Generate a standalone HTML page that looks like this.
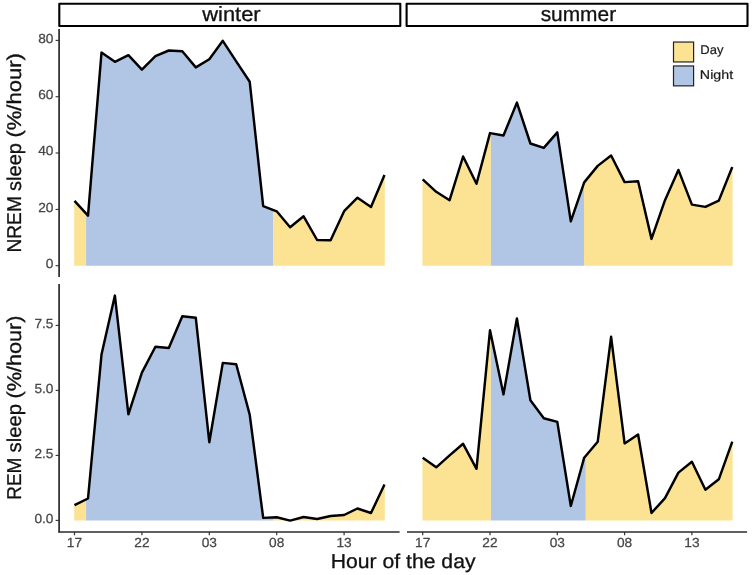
<!DOCTYPE html>
<html lang="en">
<head>
<meta charset="utf-8">
<title>Sleep by hour of the day</title>
<style>
html,body{margin:0;padding:0;background:#fff;}
body{width:752px;height:575px;overflow:hidden;}
svg{display:block;}
svg text{font-family:"Liberation Sans",sans-serif;text-rendering:geometricPrecision;}
</style>
</head>
<body>
<svg width="752" height="575" viewBox="0 0 752 575">
<rect x="0" y="0" width="752" height="575" fill="#ffffff"/>
<!-- winter / NREM -->
<path d="M74.2,265.7 L74.2,200.9 L74.5,200.9 L86.1,213.6 L86.1,265.7 Z" fill="#FCE393"/>
<path d="M86.1,265.7 L86.1,213.6 L88.0,215.7 L101.5,52.6 L114.9,61.8 L128.4,55.2 L141.9,69.7 L155.4,56.1 L168.8,50.5 L182.3,51.2 L195.8,67.4 L209.3,59.2 L222.8,40.8 L236.2,61.3 L249.7,81.7 L263.2,206.1 L273.1,209.9 L273.1,265.7 Z" fill="#B1C5E5"/>
<path d="M273.1,265.7 L273.1,209.9 L276.7,211.3 L290.1,227.2 L303.6,216.3 L317.1,240.0 L330.6,240.3 L344.1,211.2 L357.5,197.7 L371.0,207.0 L384.5,175.0 L384.8,175.0 L384.8,265.7 Z" fill="#FCE393"/>
<path d="M74.5,200.9 L88.0,215.7 L101.5,52.6 L114.9,61.8 L128.4,55.2 L141.9,69.7 L155.4,56.1 L168.8,50.5 L182.3,51.2 L195.8,67.4 L209.3,59.2 L222.8,40.8 L236.2,61.3 L249.7,81.7 L263.2,206.1 L276.7,211.3 L290.1,227.2 L303.6,216.3 L317.1,240.0 L330.6,240.3 L344.1,211.2 L357.5,197.7 L371.0,207.0 L384.5,175.0" fill="none" stroke="#000" stroke-width="2.45" stroke-linejoin="round" stroke-linecap="butt"/>
<!-- summer / NREM -->
<path d="M422.4,265.7 L422.4,179.4 L422.7,179.4 L436.2,191.8 L449.6,200.2 L463.1,156.5 L476.5,183.8 L490.0,133.1 L490.9,133.3 L490.9,265.7 Z" fill="#FCE393"/>
<path d="M490.9,265.7 L490.9,133.3 L503.5,135.5 L516.9,102.6 L530.4,143.5 L543.8,147.9 L557.3,132.4 L570.8,221.4 L584.0,183.0 L584.0,265.7 Z" fill="#B1C5E5"/>
<path d="M584.0,265.7 L584.0,183.0 L584.2,182.4 L597.7,165.9 L611.1,155.5 L624.6,182.1 L638.1,181.2 L651.5,238.9 L665.0,200.2 L678.4,169.9 L691.9,204.6 L705.4,206.9 L718.8,200.6 L732.3,167.0 L732.6,167.0 L732.6,265.7 Z" fill="#FCE393"/>
<path d="M422.7,179.4 L436.2,191.8 L449.6,200.2 L463.1,156.5 L476.5,183.8 L490.0,133.1 L503.5,135.5 L516.9,102.6 L530.4,143.5 L543.8,147.9 L557.3,132.4 L570.8,221.4 L584.2,182.4 L597.7,165.9 L611.1,155.5 L624.6,182.1 L638.1,181.2 L651.5,238.9 L665.0,200.2 L678.4,169.9 L691.9,204.6 L705.4,206.9 L718.8,200.6 L732.3,167.0" fill="none" stroke="#000" stroke-width="2.45" stroke-linejoin="round" stroke-linecap="butt"/>
<!-- winter / REM -->
<path d="M74.2,520.4 L74.2,505.2 L74.5,505.2 L86.1,499.4 L86.1,520.4 Z" fill="#FCE393"/>
<path d="M86.1,520.4 L86.1,499.4 L88.0,498.5 L101.5,354.6 L114.9,295.6 L128.4,414.3 L141.9,372.6 L155.4,346.8 L168.8,348.0 L182.3,316.2 L195.8,317.8 L209.3,442.2 L222.8,362.9 L236.2,364.3 L249.7,414.6 L263.2,517.9 L273.0,517.5 L273.0,520.4 Z" fill="#B1C5E5"/>
<path d="M273.0,520.4 L273.0,517.5 L276.7,517.3 L290.1,520.6 L303.6,517.0 L317.1,519.0 L330.6,516.0 L344.1,515.0 L357.5,508.5 L371.0,513.0 L384.5,484.5 L384.8,484.5 L384.8,520.4 Z" fill="#FCE393"/>
<path d="M74.5,505.2 L88.0,498.5 L101.5,354.6 L114.9,295.6 L128.4,414.3 L141.9,372.6 L155.4,346.8 L168.8,348.0 L182.3,316.2 L195.8,317.8 L209.3,442.2 L222.8,362.9 L236.2,364.3 L249.7,414.6 L263.2,517.9 L276.7,517.3 L290.1,520.6 L303.6,517.0 L317.1,519.0 L330.6,516.0 L344.1,515.0 L357.5,508.5 L371.0,513.0 L384.5,484.5" fill="none" stroke="#000" stroke-width="2.45" stroke-linejoin="round" stroke-linecap="butt"/>
<!-- summer / REM -->
<path d="M422.4,520.4 L422.4,457.8 L422.7,457.8 L436.2,467.3 L449.6,455.4 L463.1,443.8 L476.5,468.8 L490.0,330.3 L490.9,334.6 L490.9,520.4 Z" fill="#FCE393"/>
<path d="M490.9,520.4 L490.9,334.6 L503.5,394.4 L516.9,318.4 L530.4,400.2 L543.8,418.3 L557.3,421.9 L570.8,506.0 L584.2,457.7 L585.8,455.8 L585.8,520.4 Z" fill="#B1C5E5"/>
<path d="M585.8,520.4 L585.8,455.8 L597.7,441.8 L611.1,336.8 L624.6,443.4 L638.1,434.5 L651.5,513.0 L665.0,498.1 L678.4,472.6 L691.9,461.7 L705.4,489.7 L718.8,479.3 L732.3,441.7 L732.6,441.7 L732.6,520.4 Z" fill="#FCE393"/>
<path d="M422.7,457.8 L436.2,467.3 L449.6,455.4 L463.1,443.8 L476.5,468.8 L490.0,330.3 L503.5,394.4 L516.9,318.4 L530.4,400.2 L543.8,418.3 L557.3,421.9 L570.8,506.0 L584.2,457.7 L597.7,441.8 L611.1,336.8 L624.6,443.4 L638.1,434.5 L651.5,513.0 L665.0,498.1 L678.4,472.6 L691.9,461.7 L705.4,489.7 L718.8,479.3 L732.3,441.7" fill="none" stroke="#000" stroke-width="2.45" stroke-linejoin="round" stroke-linecap="butt"/>
<!-- facet strips -->
<rect x="59.3" y="3.7" width="341.0" height="22.3" fill="#fff" stroke="#000" stroke-width="2.1" stroke-linejoin="round"/>
<rect x="406.6" y="3.7" width="340.9" height="22.3" fill="#fff" stroke="#000" stroke-width="2.1" stroke-linejoin="round"/>
<text x="202.24" y="21.30" font-size="20.6" textLength="58.36" lengthAdjust="spacingAndGlyphs" fill="#111" stroke="#111" stroke-width="0.3">winter</text>
<text x="540.67" y="21.30" font-size="20.6" textLength="75.43" lengthAdjust="spacingAndGlyphs" fill="#111" stroke="#111" stroke-width="0.3">summer</text>
<!-- axes -->
<line x1="59.1" y1="29.1" x2="59.1" y2="276.9" stroke="#2b2b2b" stroke-width="1.7"/>
<line x1="59.1" y1="284" x2="59.1" y2="532.6" stroke="#2b2b2b" stroke-width="1.7"/>
<line x1="58.5" y1="531.9" x2="399.6" y2="531.9" stroke="#2b2b2b" stroke-width="1.55"/>
<line x1="407" y1="531.9" x2="747.1" y2="531.9" stroke="#2b2b2b" stroke-width="1.55"/>
<line x1="55.6" y1="40.4" x2="59.1" y2="40.4" stroke="#333333" stroke-width="1.1"/>
<text x="53.5" y="42.6" font-size="13.2" text-anchor="end" textLength="15.24" lengthAdjust="spacingAndGlyphs" fill="#474747" stroke="#474747" stroke-width="0.25">80</text>
<line x1="55.6" y1="96.7" x2="59.1" y2="96.7" stroke="#333333" stroke-width="1.1"/>
<text x="53.5" y="98.9" font-size="13.2" text-anchor="end" textLength="15.24" lengthAdjust="spacingAndGlyphs" fill="#474747" stroke="#474747" stroke-width="0.25">60</text>
<line x1="55.6" y1="153.0" x2="59.1" y2="153.0" stroke="#333333" stroke-width="1.1"/>
<text x="53.5" y="155.2" font-size="13.2" text-anchor="end" textLength="15.24" lengthAdjust="spacingAndGlyphs" fill="#474747" stroke="#474747" stroke-width="0.25">40</text>
<line x1="55.6" y1="209.4" x2="59.1" y2="209.4" stroke="#333333" stroke-width="1.1"/>
<text x="53.5" y="211.6" font-size="13.2" text-anchor="end" textLength="15.24" lengthAdjust="spacingAndGlyphs" fill="#474747" stroke="#474747" stroke-width="0.25">20</text>
<line x1="55.6" y1="265.7" x2="59.1" y2="265.7" stroke="#333333" stroke-width="1.1"/>
<text x="53.5" y="267.9" font-size="13.2" text-anchor="end" textLength="7.62" lengthAdjust="spacingAndGlyphs" fill="#474747" stroke="#474747" stroke-width="0.25">0</text>
<line x1="55.6" y1="325.4" x2="59.1" y2="325.4" stroke="#333333" stroke-width="1.1"/>
<text x="53.5" y="327.6" font-size="13.2" text-anchor="end" textLength="19.04" lengthAdjust="spacingAndGlyphs" fill="#474747" stroke="#474747" stroke-width="0.25">7.5</text>
<line x1="55.6" y1="390.4" x2="59.1" y2="390.4" stroke="#333333" stroke-width="1.1"/>
<text x="53.5" y="392.6" font-size="13.2" text-anchor="end" textLength="19.04" lengthAdjust="spacingAndGlyphs" fill="#474747" stroke="#474747" stroke-width="0.25">5.0</text>
<line x1="55.6" y1="455.4" x2="59.1" y2="455.4" stroke="#333333" stroke-width="1.1"/>
<text x="53.5" y="457.6" font-size="13.2" text-anchor="end" textLength="19.04" lengthAdjust="spacingAndGlyphs" fill="#474747" stroke="#474747" stroke-width="0.25">2.5</text>
<line x1="55.6" y1="520.4" x2="59.1" y2="520.4" stroke="#333333" stroke-width="1.1"/>
<text x="53.5" y="522.6" font-size="13.2" text-anchor="end" textLength="19.04" lengthAdjust="spacingAndGlyphs" fill="#474747" stroke="#474747" stroke-width="0.25">0.0</text>
<line x1="74.5" y1="531.9" x2="74.5" y2="535.3" stroke="#333333" stroke-width="1.2"/>
<text x="74.5" y="547.3" font-size="13.2" text-anchor="middle" textLength="15.24" lengthAdjust="spacingAndGlyphs" fill="#474747" stroke="#474747" stroke-width="0.25">17</text>
<line x1="141.9" y1="531.9" x2="141.9" y2="535.3" stroke="#333333" stroke-width="1.2"/>
<text x="141.9" y="547.3" font-size="13.2" text-anchor="middle" textLength="15.24" lengthAdjust="spacingAndGlyphs" fill="#474747" stroke="#474747" stroke-width="0.25">22</text>
<line x1="209.3" y1="531.9" x2="209.3" y2="535.3" stroke="#333333" stroke-width="1.2"/>
<text x="209.3" y="547.3" font-size="13.2" text-anchor="middle" textLength="15.24" lengthAdjust="spacingAndGlyphs" fill="#474747" stroke="#474747" stroke-width="0.25">03</text>
<line x1="276.7" y1="531.9" x2="276.7" y2="535.3" stroke="#333333" stroke-width="1.2"/>
<text x="276.7" y="547.3" font-size="13.2" text-anchor="middle" textLength="15.24" lengthAdjust="spacingAndGlyphs" fill="#474747" stroke="#474747" stroke-width="0.25">08</text>
<line x1="344.1" y1="531.9" x2="344.1" y2="535.3" stroke="#333333" stroke-width="1.2"/>
<text x="344.1" y="547.3" font-size="13.2" text-anchor="middle" textLength="15.24" lengthAdjust="spacingAndGlyphs" fill="#474747" stroke="#474747" stroke-width="0.25">13</text>
<line x1="422.7" y1="531.9" x2="422.7" y2="535.3" stroke="#333333" stroke-width="1.2"/>
<text x="422.7" y="547.3" font-size="13.2" text-anchor="middle" textLength="15.24" lengthAdjust="spacingAndGlyphs" fill="#474747" stroke="#474747" stroke-width="0.25">17</text>
<line x1="490.0" y1="531.9" x2="490.0" y2="535.3" stroke="#333333" stroke-width="1.2"/>
<text x="490.0" y="547.3" font-size="13.2" text-anchor="middle" textLength="15.24" lengthAdjust="spacingAndGlyphs" fill="#474747" stroke="#474747" stroke-width="0.25">22</text>
<line x1="557.3" y1="531.9" x2="557.3" y2="535.3" stroke="#333333" stroke-width="1.2"/>
<text x="557.3" y="547.3" font-size="13.2" text-anchor="middle" textLength="15.24" lengthAdjust="spacingAndGlyphs" fill="#474747" stroke="#474747" stroke-width="0.25">03</text>
<line x1="624.6" y1="531.9" x2="624.6" y2="535.3" stroke="#333333" stroke-width="1.2"/>
<text x="624.6" y="547.3" font-size="13.2" text-anchor="middle" textLength="15.24" lengthAdjust="spacingAndGlyphs" fill="#474747" stroke="#474747" stroke-width="0.25">08</text>
<line x1="691.9" y1="531.9" x2="691.9" y2="535.3" stroke="#333333" stroke-width="1.2"/>
<text x="691.9" y="547.3" font-size="13.2" text-anchor="middle" textLength="15.24" lengthAdjust="spacingAndGlyphs" fill="#474747" stroke="#474747" stroke-width="0.25">13</text>
<!-- axis titles -->
<text x="330.75" y="568.00" font-size="20" textLength="144.75" lengthAdjust="spacingAndGlyphs" fill="#111" stroke="#111" stroke-width="0.3">Hour of the day</text>
<text transform="translate(21.20,0) rotate(-90)" font-size="20" fill="#111" stroke="#111" stroke-width="0.3"><tspan x="-252.60" textLength="56.49" lengthAdjust="spacingAndGlyphs">NREM</tspan> <tspan x="-190.91" textLength="47.82" lengthAdjust="spacingAndGlyphs">sleep</tspan> <tspan x="-137.63" textLength="84.58" lengthAdjust="spacingAndGlyphs">(%/hour)</tspan></text>
<text transform="translate(21.20,0) rotate(-90)" font-size="20" fill="#111" stroke="#111" stroke-width="0.3"><tspan x="-499.78" textLength="42.16" lengthAdjust="spacingAndGlyphs">REM</tspan> <tspan x="-452.42" textLength="48.44" lengthAdjust="spacingAndGlyphs">sleep</tspan> <tspan x="-398.52" textLength="83.04" lengthAdjust="spacingAndGlyphs">(%/hour)</tspan></text>
<!-- legend -->
<rect x="673.5" y="42.05" width="20.1" height="19.9" fill="#FCE393" stroke="#222" stroke-width="1.2"/>
<rect x="673.5" y="65.95" width="20.1" height="19.9" fill="#B1C5E5" stroke="#222" stroke-width="1.2"/>
<text x="700.28" y="54.40" font-size="12.6" textLength="23.12" lengthAdjust="spacingAndGlyphs" fill="#1a1a1a" stroke="#1a1a1a" stroke-width="0.2">Day</text>
<text x="699.89" y="79.40" font-size="12.6" textLength="33.26" lengthAdjust="spacingAndGlyphs" fill="#1a1a1a" stroke="#1a1a1a" stroke-width="0.2">Night</text>
</svg>
</body>
</html>
